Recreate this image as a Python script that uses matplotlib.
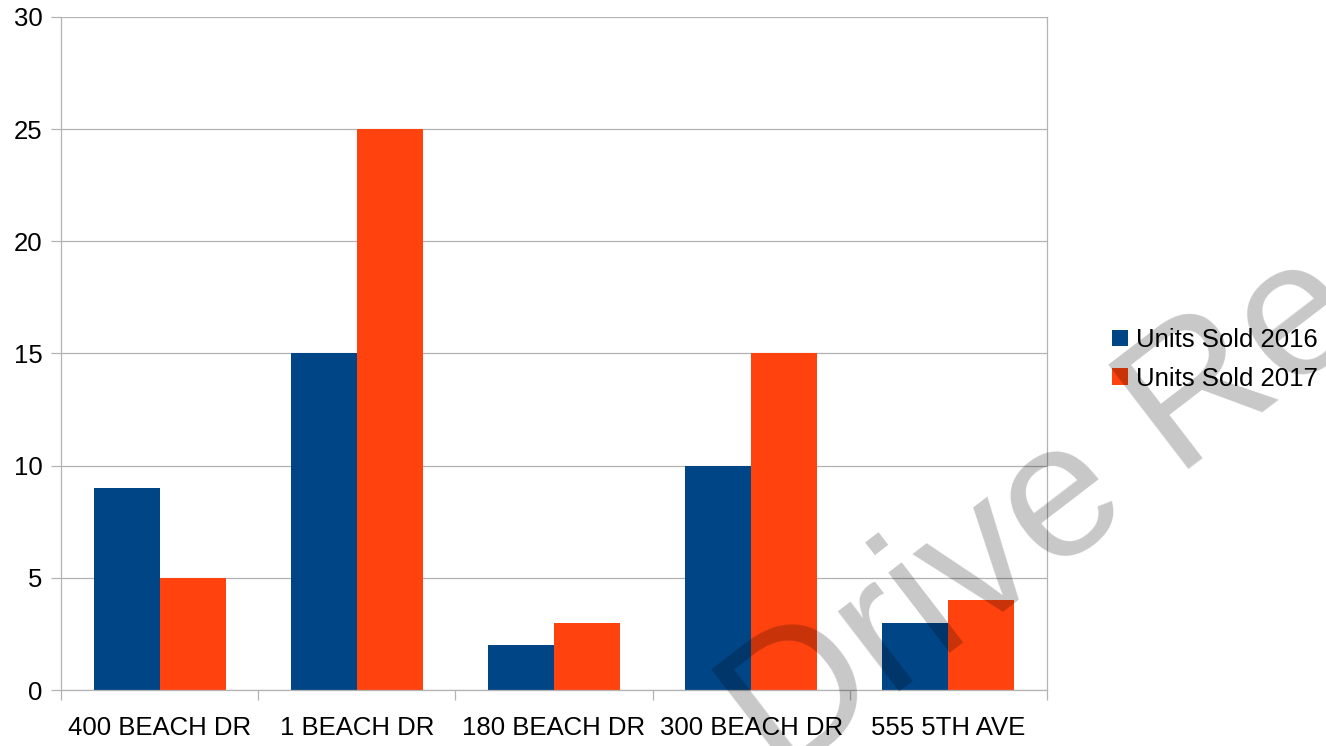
import matplotlib
matplotlib.use("Agg")
import matplotlib.pyplot as plt
import numpy as np

categories = ["400 BEACH DR", "1 BEACH DR", "180 BEACH DR", "300 BEACH DR", "555 5TH AVE"]
units_2016 = [9, 15, 2, 10, 3]
units_2017 = [5, 25, 3, 15, 4]
series_names = ["Units Sold 2016", "Units Sold 2017"]
yticks = [0, 5, 10, 15, 20, 25, 30]

FONT = ["Liberation Sans", "DejaVu Sans"]
plt.rcParams["font.family"] = FONT

W, H = 1326, 746
fig = plt.figure(figsize=(W / 100, H / 100), dpi=100)
ax = fig.add_axes([61 / W, (H - 690) / H, 986 / W, 673 / H])

x = np.arange(len(categories))
bw = 0.335
grid_c = "#b3b3b3"
ax.set_axisbelow(True)
ax.yaxis.grid(True, color=grid_c, linewidth=0.9)
b1 = ax.bar(x - bw / 2, units_2016, width=bw, color="#004586", label=series_names[0], zorder=2)
b2 = ax.bar(x + bw / 2, units_2017, width=bw, color="#ff420e", label=series_names[1], zorder=2)

ax.set_xlim(-0.5, len(categories) - 0.5)
ax.set_ylim(0, 30)
ax.set_yticks(yticks)
ax.set_yticklabels([str(v) for v in yticks])
ax.set_xticks(x)
ax.set_xticklabels(categories)
ax.set_xticks(np.arange(len(categories) + 1) - 0.5, minor=True)
ax.tick_params(axis="x", which="major", length=0, pad=19, labelsize=18.5)
ax.tick_params(axis="x", which="minor", length=7.5, color=grid_c, width=0.9)
ax.tick_params(axis="y", length=7.5, color=grid_c, width=0.9, pad=6, labelsize=18.5)
for s in ["left", "right", "bottom"]:
    ax.spines[s].set_color(grid_c)
    ax.spines[s].set_linewidth(0.9)
ax.spines["top"].set_visible(False)

leg = fig.legend(handles=[b1, b2], labels=series_names, loc="upper left",
                 bbox_to_anchor=(1112 / W, (H - 328) / H), frameon=False,
                 fontsize=18.5, handlelength=0.62, handleheight=0.62,
                 handletextpad=0.3, labelspacing=0.57, borderpad=0, borderaxespad=0)

fig.text(780 / W, (H - 783) / H, "Drive Re", rotation=37.5, rotation_mode="anchor",
         ha="left", va="baseline", fontsize=138, color="black", alpha=0.22,
         family=FONT, zorder=10)

fig.savefig("out.png", dpi=100)
